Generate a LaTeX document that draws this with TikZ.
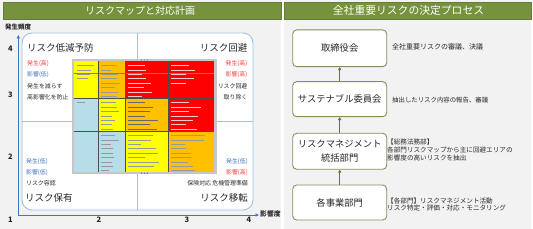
\documentclass[tikz,border=0pt]{standalone}
\usepackage{fontspec}
\setmainfont{Noto Sans CJK JP}
\usetikzlibrary{arrows.meta}
\definecolor{HeadGreen}{RGB}{118, 146, 60}
\definecolor{BoxGreen}{RGB}{132, 144, 92}
\definecolor{ArrowGreen}{RGB}{96, 120, 52}
\definecolor{PanelGray}{RGB}{242, 242, 242}
\definecolor{AxisBlue}{RGB}{68, 114, 196}
\definecolor{FrameBlue}{RGB}{160, 192, 228}
\definecolor{RiskRed}{RGB}{255, 60, 60}
\definecolor{TextDark}{RGB}{40, 40, 40}
\definecolor{MapYellow}{RGB}{255, 255, 0}
\definecolor{MapOrange}{RGB}{255, 192, 0}
\definecolor{MapRed}{RGB}{255, 0, 0}
\definecolor{MapBlue}{RGB}{183, 222, 232}
\newcommand{\fsz}[1]{\fontsize{#1}{#1}\selectfont}

\begin{document}
\begin{tikzpicture}[x=1pt, y=-1pt,
    every node/.style={inner sep=0pt, text=TextDark},
    headbar/.style={fill=HeadGreen, draw=HeadGreen!85!black, line width=0.3pt},
    headtext/.style={text=white, font=\fsz{10}},
    axis/.style={AxisBlue, line width=0.9pt, -{Triangle[length=3.5pt, width=3.2pt]}},
    axnum/.style={font=\bfseries\fsz{7.5}, text=black!85},
    quadlbl/.style={font=\fsz{9.5}, text=black!85},
    note/.style={font=\fsz{5.9}},
    flowbox/.style={draw=BoxGreen, line width=0.9pt, fill=white, rounded corners=4pt,
                    minimum width=94pt, align=center, font=\fsz{9.3}},
    flowarrow/.style={-{Triangle[length=3pt, width=3.4pt]}, ArrowGreen, line width=1.3pt},
    desc/.style={align=left, font=\fontsize{6.6}{7.8}\selectfont}]
    \useasboundingbox (0,0) rectangle (533,229);

    % Panels and headers
    \fill[PanelGray] (0,0) rectangle (280.7,229);
    \fill[PanelGray] (284.3,0) rectangle (531,229);
    \draw[headbar] (2.7,2.3) rectangle (280.7,19);
    \draw[headbar] (284.3,2.3) rectangle (531,19);
    \node[headtext] (mapTitle) at (140,10.8) {リスクマップと対応計画};
    \node[headtext, font=\fsz{10.8}] (flowTitle) at (408.5,10.8) {全社重要リスクの決定プロセス};

    % Quadrant frame
    \node[draw=FrameBlue, line width=0.9pt, fill=white, rounded corners=10pt,
          minimum width=231pt, minimum height=177pt] (quad) at (137.5,121.5) {};
    \draw[FrameBlue, line width=0.8pt] (quad.north) -- (quad.south);
    \draw[FrameBlue, line width=0.8pt] (quad.west) -- (quad.east);

    % Axes
    \coordinate (org) at (18.3,215);
    \coordinate (ytip) at (18.3,35);
    \coordinate (xtip) at (259,215);
    \draw[axis] (org) -- (ytip);
    \draw[axis] (org) -- (xtip);
    \node[font=\bfseries\fsz{6.5}, anchor=west] (freqLbl) at (5,27.3) {発生頻度};
    \node[font=\bfseries\fsz{6.8}, anchor=west] (impactLbl) at (260,214.3) {影響度};
    \foreach \yy/\val in {48.3/4, 95/3, 157/2, 219.5/1}
        \node[axnum] (ynum\val) at (10.3,\yy) {\val};
    \foreach \xx/\val in {99/2, 187/3, 249/4}
        \node[axnum] (xnum\val) at (\xx,219.5) {\val};

    % Heat map
    \fill[gray!45] (71.7,59) rectangle (216.7,174);
    \pgfmathsetseed{11}
    \foreach \xa/\ya/\xb/\yb/\cc/\mc/\nn in {
        74.3/61/98.3/98.3/MapYellow/black!40/4, 98.3/61/125.7/98.3/MapOrange/black!40/8,
        125.7/61/168.3/98.3/MapRed/white!80!red/8, 168.3/61/214.3/98.3/MapRed/white!80!red/5,
        74.3/98.3/98.3/131/MapBlue/black!40/1, 98.3/98.3/125.7/131/MapYellow/black!40/7,
        125.7/98.3/168.3/131/MapOrange/black!60/7, 168.3/98.3/214.3/131/MapRed/white!80!red/7,
        74.3/131/98.3/172/MapBlue/black!40/0, 98.3/131/125.7/172/MapBlue/black!40/9,
        125.7/131/168.3/172/MapYellow/black!40/8, 168.3/131/214.3/172/MapOrange/black!40/9}{
        \fill[\cc] (\xa,\ya) rectangle (\xb,\yb);
        \ifnum\nn>0
            \foreach \k in {1,...,\nn}
                \draw[\mc, line width=0.4pt] ({\xa+2.5},{\ya+\k*4.4}) -- ++({(0.3+0.45*rnd)*(\xb-\xa)},0);
        \fi
    }
    \draw[black!50, line width=0.35pt] (74.3,73.3) -- (214.3,73.3);
    \foreach \yy in {98.3, 131}
        \draw[black!70, line width=0.5pt] (74.3,\yy) -- (214.3,\yy);
    \foreach \xx in {98.3, 125.7, 168.3}
        \draw[black!70, line width=0.5pt] (\xx,61) -- (\xx,172);
    \foreach \dx in {-3,0,3} {
        \fill[black!60] (144.5+\dx,59.9) circle (0.6);
        \fill[black!60] (144.5+\dx,173.2) circle (0.6);
    }

    % Quadrant labels
    \node[quadlbl, anchor=west] (reduceLbl) at (27,48) {リスク低減予防};
    \node[quadlbl, anchor=east] (avoidLbl) at (247.5,48) {リスク回避};
    \node[quadlbl, anchor=west] (retainLbl) at (25,198) {リスク保有};
    \node[quadlbl, anchor=east] (transferLbl) at (248,198) {リスク移転};

    % Notes in each quadrant
    \foreach \txt/\col/\yy [count=\i] in {発生(高)/RiskRed/63.3, 影響(低)/AxisBlue/75,
                                         発生を減らす/TextDark/86.7, 高影響化を防止/TextDark/97.7}
        \node[note, text=\col, anchor=west] (tl\i) at (27,\yy) {\txt};
    \foreach \txt/\col/\yy [count=\i] in {発生(高)/RiskRed/63.3, 影響(高)/RiskRed/75,
                                         リスク回避/TextDark/86.7, 取り除く/TextDark/97.7}
        \node[note, text=\col, anchor=east] (tr\i) at (247.5,\yy) {\txt};
    \foreach \txt/\col/\yy [count=\i] in {発生(低)/AxisBlue/161.7, 影響(低)/AxisBlue/172.7,
                                         リスク容認/TextDark/183}
        \node[note, text=\col, anchor=west] (bl\i) at (26,\yy) {\txt};
    \foreach \txt/\col/\yy [count=\i] in {発生(低)/AxisBlue/161.7, 影響(高)/RiskRed/172.7,
                                         保険対応\ 危機管理準備/TextDark/183}
        \node[note, text=\col, anchor=east] (br\i) at (248,\yy) {\txt};

    % Decision flow
    \node[flowbox, minimum height=36.7pt] (board) at (339.7,48.3) {取締役会};
    \node[flowbox, minimum height=35pt] (sustain) at (339.7,99.2) {サステナブル委員会};
    \node[flowbox, minimum height=36pt, font=\fontsize{9.3}{14}\selectfont]
        (riskmgmt) at (339.7,151.3) {リスクマネジメント\\統括部門};
    \node[flowbox, minimum height=35pt] (divisions) at (339.7,202.5) {各事業部門};
    \draw[flowarrow] (divisions) -- (riskmgmt);
    \draw[flowarrow] (riskmgmt) -- (sustain);
    \draw[flowarrow] (sustain) -- (board);

    \node[desc, font=\fsz{7}, anchor=west] (boardTxt) at (392,47) {全社重要リスクの審議、決議};
    \node[desc, font=\fsz{6.4}, anchor=west] (sustainTxt) at (392,100) {抽出したリスク内容の報告、審議};
    \node[desc, anchor=west] (riskmgmtTxt) at (387,150)
        {【総務法務部】\\各部門リスクマップから主に回避エリアの\\影響度の高いリスクを抽出};
    \node[desc, anchor=west] (divisionsTxt) at (387,204.5)
        {【各部門】リスクマネジメント活動\\リスク特定・評価・対応・モニタリング};
\end{tikzpicture}
\end{document}
